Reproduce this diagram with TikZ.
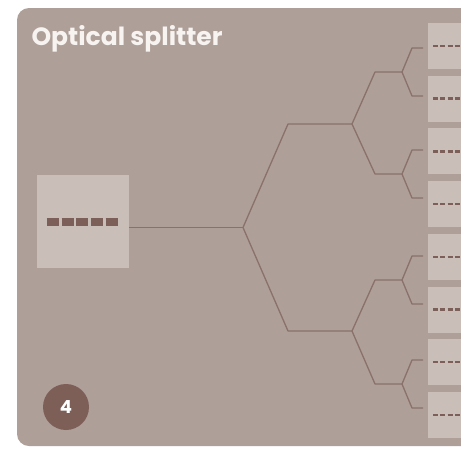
\documentclass[tikz,border=0pt]{standalone}
\usepackage{fontspec}
\setmainfont{Poppins}
\definecolor{panelbg}{HTML}{AE9F98}
\definecolor{boxbg}{HTML}{CABEB9}
\definecolor{fibrecol}{HTML}{8A716A}
\definecolor{dashcol}{HTML}{7B5F58}
\definecolor{badgecol}{HTML}{7E5F57}
\definecolor{titlecol}{HTML}{F7F3F1}
\begin{document}
\begin{tikzpicture}[x=1pt, y=-1pt,
  panel/.style={fill=panelbg, rounded corners=12pt},
  inbox/.style={fill=boxbg, minimum width=92pt, minimum height=93pt, inner sep=0pt},
  outbox/.style={fill=boxbg, minimum width=80pt, minimum height=46pt, inner sep=0pt, anchor=west},
  fibre/.style={draw=fibrecol, line width=1.3pt, line join=round},
  badge/.style={circle, fill=badgecol, minimum size=46pt, inner sep=0pt, text=white,
    font=\fontsize{18}{18}\selectfont\bfseries}]
  \useasboundingbox (0,0) rectangle (461,448);
  \clip (0,0) rectangle (461,448);
  \fill[white] (0,0) rectangle (461,448);
  % card
  \fill[panel] (17,8) rectangle (500,446);
  \node[anchor=base west, text=titlecol, font=\fontsize{25}{30}\selectfont\bfseries] (title) at (28,45) {Optical splitter};
  % input port
  \node[inbox] (in) at (83,221.5) {};
  \draw[dashcol, line width=8pt, dash pattern=on 12pt off 2.7pt] ([xshift=10pt]in.west) -- ([xshift=81.5pt]in.west);
  % output ports
  \foreach \i in {1,...,8} {
    \node[outbox] (out\i) at (428,{46+52.7*(\i-1)}) {};
    \draw[dashcol, line width=2.5pt, dash pattern=on 5pt off 2.3pt] ([xshift=5pt]out\i.west) -- ([xshift=40pt]out\i.west);
  }
  % split points
  \coordinate (j0) at (243,227.5);
  \coordinate (u2) at (352,124);
  \coordinate (l2) at (352,331);
  \coordinate (p1) at (402,72);
  \coordinate (p2) at (402,174);
  \coordinate (p3) at (402,280);
  \coordinate (p4) at (402,384);
  % fibre tree
  \draw[fibre] (in.east |- j0) -- (j0);
  \draw[fibre] (j0) -- (288,124) -- (u2);
  \draw[fibre] (j0) -- (288,331) -- (l2);
  \draw[fibre] (u2) -- (375,72) -- (p1);
  \draw[fibre] (u2) -- (375,174) -- (p2);
  \draw[fibre] (l2) -- (375,280) -- (p3);
  \draw[fibre] (l2) -- (375,384) -- (p4);
  \foreach \p in {p1,p2,p3,p4} {
    \draw[fibre] (\p) -- ++(10,-24) -- ++(11,0);
    \draw[fibre] (\p) -- ++(10,24) -- ++(11,0);
  }
  % step number
  \node[badge] (num) at (66,407) {4};
\end{tikzpicture}
\end{document}
